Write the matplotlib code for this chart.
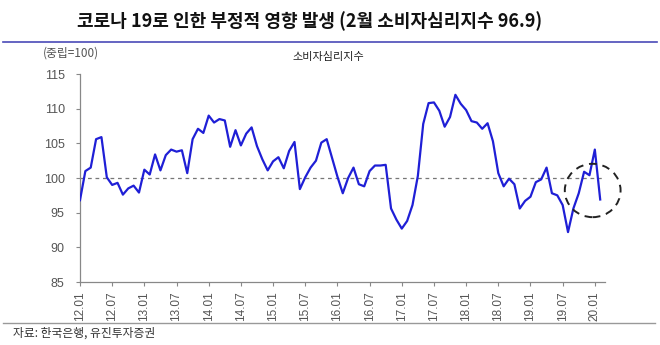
import numpy as np
import matplotlib
matplotlib.use("Agg")
import matplotlib.pyplot as plt
from matplotlib.patches import Ellipse
from matplotlib.lines import Line2D

plt.rcParams['font.family'] = ['Noto Sans CJK KR', 'DejaVu Sans']

# 소비자심리지수, 2012.01 ~ 2020.02 (월별)
csi = [96.8, 101.0, 101.5, 105.6, 105.9, 100.1, 99.0, 99.3, 97.6, 98.5, 98.9, 97.9,
       101.2, 100.5, 103.4, 101.1, 103.3, 104.1, 103.8, 104.0, 100.7, 105.6, 107.1, 106.5,
       109.0, 108.0, 108.5, 108.3, 104.5, 106.9, 104.7, 106.4, 107.3, 104.6, 102.7, 101.1,
       102.4, 103.0, 101.4, 103.9, 105.2, 98.4, 100.1, 101.5, 102.5, 105.1, 105.6, 102.9,
       100.2, 97.8, 100.0, 101.5, 99.1, 98.8, 101.0, 101.8, 101.8, 101.9, 95.6, 94.0,
       92.7, 93.8, 96.1, 100.3, 107.8, 110.8, 110.9, 109.7, 107.4, 108.8, 112.0, 110.7,
       109.8, 108.2, 108.0, 107.1, 107.9, 105.3, 100.7, 98.8, 99.9, 99.1, 95.6, 96.7,
       97.3, 99.4, 99.8, 101.5, 97.8, 97.5, 96.1, 92.2, 95.6, 97.8, 100.9, 100.4,
       104.1, 96.9]
tick_labels = ['12.01', '12.07', '13.01', '13.07', '14.01', '14.07', '15.01', '15.07',
               '16.01', '16.07', '17.01', '17.07', '18.01', '18.07', '19.01', '19.07', '20.01']
neutral = 100

x = np.arange(len(csi))

fig = plt.figure(figsize=(6.6, 3.45), dpi=100)
ax = fig.add_axes([0.1212, 0.1826, 0.7955, 0.6029])

ax.plot(x, csi, color='#1f1fd6', linewidth=1.6, zorder=3)
ax.axhline(neutral, color='#777777', linestyle=(0, (3, 3)), linewidth=0.9, zorder=2)

# 최근 구간 강조 (점선 원)
ax.add_patch(Ellipse((95.6, 98.2), 10.4, 7.7, fill=False, edgecolor='#222222',
                     linestyle=(0, (4, 3)), linewidth=1.4, zorder=4, clip_on=False))

ax.set_xlim(0, 97.9)
ax.set_ylim(85, 115)
ax.set_yticks(range(85, 116, 5))
ax.set_xticks(range(0, len(tick_labels) * 6, 6))
ax.set_xticklabels(tick_labels, rotation=90, family=['Liberation Sans'], fontsize=8.5, color='#555555')
for t in ax.get_yticklabels():
    t.set_family(['Liberation Sans'])
ax.tick_params(axis='y', labelsize=9, labelcolor='#555555', length=3, color='#888888', pad=8)
ax.tick_params(axis='x', length=3, color='#888888', pad=4)

for s in ['top', 'right']:
    ax.spines[s].set_visible(False)
for s in ['left', 'bottom']:
    ax.spines[s].set_color('#888888')
    ax.spines[s].set_linewidth(0.9)

fig.text(328 / 660, 1 - 57 / 345, '소비자심리지수', ha='center', va='center',
         fontsize=8, color='#222222')
fig.text(43 / 660, 1 - 53 / 345, '(중립=100)', ha='left', va='center', fontsize=8.5, color='#555555')

# 제목 및 구분선
fig.text(310 / 660, 1 - 21 / 345, '코로나 19로 인한 부정적 영향 발생 (2월 소비자심리지수 96.9)',
         ha='center', va='center', fontsize=13, fontweight='bold', color='#111111')
fig.add_artist(Line2D([3 / 660, 657 / 660], [1 - 42 / 345] * 2, color='#4a4ab8', linewidth=1.2))
fig.add_artist(Line2D([3 / 660, 655 / 660], [1 - 322.5 / 345] * 2, color='#999999', linewidth=1.0))
fig.text(13 / 660, 1 - 333 / 345, '자료: 한국은행, 유진투자증권', ha='left', va='center',
         fontsize=8.5, color='#333333')

fig.savefig('out.png', dpi=100)
